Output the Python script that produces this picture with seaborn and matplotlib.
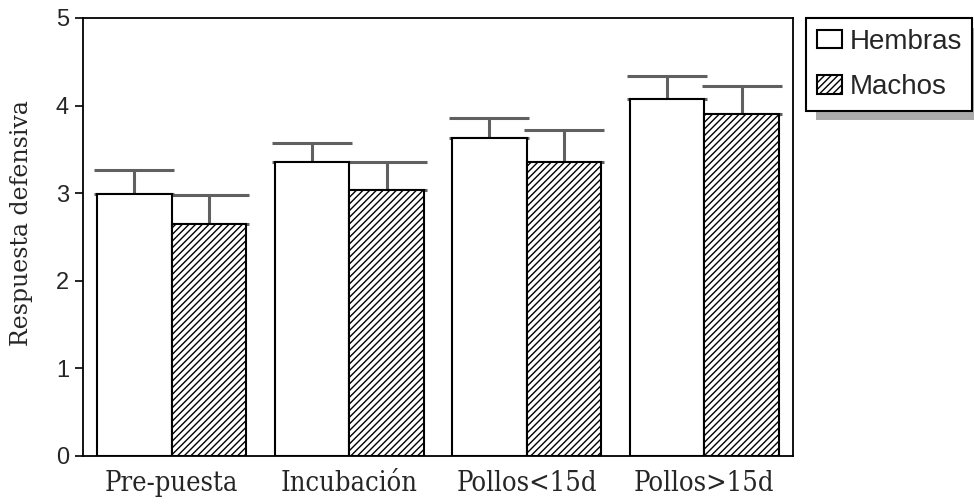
import matplotlib
matplotlib.use("Agg")
import matplotlib.pyplot as plt
from matplotlib.patches import Patch, Rectangle
import seaborn as sns
import pandas as pd

categories = ["Pre-puesta", "Incubación", "Pollos<15d", "Pollos>15d"]
groups = ["Hembras", "Machos"]
hembras_mean = [2.99, 3.36, 3.63, 4.07]
hembras_err = [0.28, 0.21, 0.23, 0.27]
machos_mean = [2.65, 3.04, 3.36, 3.90]
machos_err = [0.33, 0.32, 0.36, 0.32]
y_ticks = [0, 1, 2, 3, 4, 5]

df = pd.DataFrame({
    "fase": categories * 2,
    "sexo": ["Hembras"] * 4 + ["Machos"] * 4,
    "valor": hembras_mean + machos_mean,
})
errs = {"Hembras": hembras_err, "Machos": machos_err}

sns.set_style("white")
plt.rcParams["hatch.linewidth"] = 1.0
fig = plt.figure(figsize=(9.74, 5.04), dpi=100)
ax = fig.add_axes([83/974, 48/504, 710/974, 438/504])

sns.barplot(data=df, x="fase", y="valor", hue="sexo", order=categories,
            hue_order=groups, palette=["white", "white"], edgecolor="black",
            linewidth=1.5, width=0.84, dodge=True, legend=False, ax=ax,
            errorbar=None)

for cont, g in zip(ax.containers, groups):
    for bar, e in zip(cont, errs[g]):
        if g == "Machos":
            bar.set_hatch("/////")
        xc = bar.get_x() + bar.get_width() / 2
        h = bar.get_height()
        ax.errorbar(xc, h, yerr=[[0], [e]], fmt="none", ecolor="#606060",
                    elinewidth=2.2, capsize=28.5, capthick=2.2, zorder=1)
        bar.set_zorder(2)

ax.set_ylim(0, 5)
ax.set_xlim(-0.5, 3.5)
ax.set_yticks(y_ticks)
ax.set_yticklabels([str(t) for t in y_ticks], fontfamily="Liberation Sans", fontsize=17)
ax.tick_params(axis="y", which="both", direction="out", length=6, width=1.2,
               left=True, color="black", pad=4)
ax.tick_params(axis="x", length=0, pad=10)
for lbl in ax.get_xticklabels():
    lbl.set_fontfamily("DejaVu Serif")
    lbl.set_fontstretch("condensed")
    lbl.set_fontsize(19.5)
ax.set_xlabel("")
ax.set_ylabel("Respuesta defensiva", fontfamily="DejaVu Serif", fontsize=17)
ax.yaxis.set_label_coords(-0.070, 0.531)
for s in ax.spines.values():
    s.set_visible(True)
    s.set_color("black")
    s.set_linewidth(1.3)

# legend shadow
fig.patches.append(Rectangle((816/974, (504-120)/504), 200/974, 92/504,
                             transform=fig.transFigure, facecolor="#aaaaaa",
                             edgecolor="none", zorder=0))
handles = [Patch(facecolor="white", edgecolor="black", linewidth=1.5, label="Hembras"),
           Patch(facecolor="white", edgecolor="black", linewidth=1.5, hatch="/////", label="Machos")]
leg = fig.legend(handles=handles, loc="upper left",
                 bbox_to_anchor=(806/974, 1 - 18/504), bbox_transform=fig.transFigure,
                 prop={"family": "Liberation Sans", "size": 20}, frameon=True,
                 fancybox=False, framealpha=1, edgecolor="black",
                 handlelength=0.9, handleheight=0.65, handletextpad=0.28,
                 borderpad=0.38, labelspacing=0.7, borderaxespad=0)
leg.get_frame().set_linewidth(1.5)
leg.set_zorder(5)

fig.savefig("out.png", dpi=100)
